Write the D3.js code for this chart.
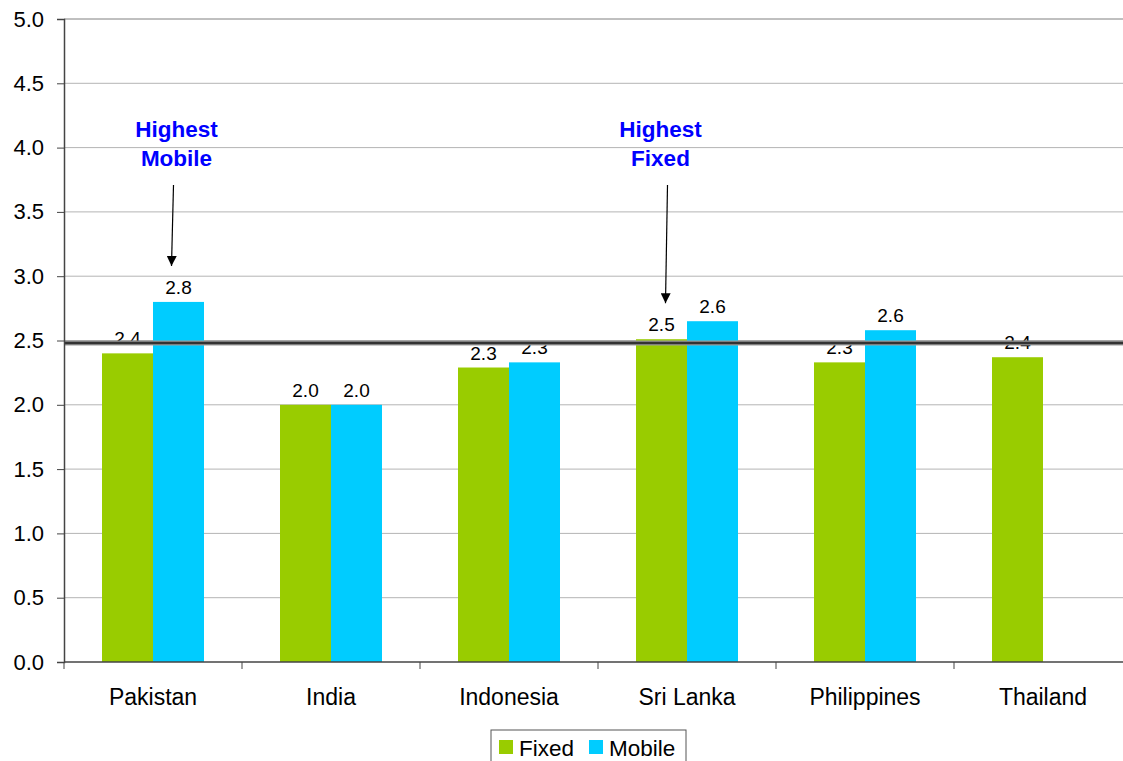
<!DOCTYPE html>
<html>
<head>
<meta charset="utf-8">
<script src="https://cdn.jsdelivr.net/npm/d3@7"></script>
<style>
body { margin: 0; background: #fff; }
svg { display: block; font-family: Arial, "Liberation Sans", sans-serif; }
</style>
</head>
<body>
<svg id="chart" width="1123" height="761"></svg>
<script>
const countries = ['Pakistan', 'India', 'Indonesia', 'Sri Lanka', 'Philippines', 'Thailand']
const fixed = [2.40, 2.00, 2.29, 2.51, 2.33, 2.37]
const mobile = [2.80, 2.00, 2.33, 2.65, 2.58, null]
const fixedLabels = ['2.4', '2.0', '2.3', '2.5', '2.3', '2.4']
const mobileLabels = ['2.8', '2.0', '2.3', '2.6', '2.6', '']
const yTicks = [0, 0.5, 1, 1.5, 2, 2.5, 3, 3.5, 4, 4.5, 5]
const average = 2.48
const callouts = [
	{ country: 'Pakistan', series: 'Mobile', lines: ['Highest', 'Mobile'] },
	{ country: 'Sri Lanka', series: 'Fixed', lines: ['Highest', 'Fixed'] }
]

const svg = d3.select('#chart')
const colors = { Fixed: '#99cc00', Mobile: '#00ccff' }

// plot area
let x = d3.scaleBand().domain(countries).range([64, 1132])
let y = d3.scaleLinear().domain([0, 5]).range([662, 19])
let barW = 51

// gridlines
svg.append('g').selectAll('line')
	.data(yTicks.filter(d => d > 0)).enter().append('line')
	.attr('x1', 64).attr('x2', 1132)
	.attr('y1', d => y(d)).attr('y2', d => y(d))
	.attr('stroke', d => d === 5 ? '#808080' : '#b4b4b4')
	.attr('stroke-width', 1)

// bars
let rows = countries.map((c, i) => ({ c, f: fixed[i], m: mobile[i], fl: fixedLabels[i], ml: mobileLabels[i] }))

let bars = svg.append('g')
bars.selectAll('.fixed')
	.data(rows).enter().append('rect').attr('class', 'fixed')
	.attr('x', d => x(d.c) + x.bandwidth() / 2 - barW)
	.attr('y', d => y(d.f))
	.attr('width', barW)
	.attr('height', d => y(0) - y(d.f))
	.attr('fill', colors.Fixed)

bars.selectAll('.mobile')
	.data(rows.filter(d => d.m != null)).enter().append('rect').attr('class', 'mobile')
	.attr('x', d => x(d.c) + x.bandwidth() / 2)
	.attr('y', d => y(d.m))
	.attr('width', barW)
	.attr('height', d => y(0) - y(d.m))
	.attr('fill', colors.Mobile)

// value labels
let labels = svg.append('g').attr('font-size', 19).attr('text-anchor', 'middle').attr('fill', '#000')
labels.selectAll('.fl')
	.data(rows).enter().append('text').attr('class', 'fl')
	.attr('x', d => x(d.c) + x.bandwidth() / 2 - barW / 2)
	.attr('y', d => y(d.f) - 8)
	.text(d => d.fl)
labels.selectAll('.ml')
	.data(rows.filter(d => d.m != null)).enter().append('text').attr('class', 'ml')
	.attr('x', d => x(d.c) + x.bandwidth() / 2 + barW / 2)
	.attr('y', d => y(d.m) - 8)
	.text(d => d.ml)

// average line
svg.append('line')
	.attr('x1', 64).attr('x2', 1132)
	.attr('y1', y(average)).attr('y2', y(average))
	.attr('stroke', '#9a9a9a').attr('stroke-width', 5)
svg.append('line')
	.attr('x1', 64).attr('x2', 1132)
	.attr('y1', y(average)).attr('y2', y(average))
	.attr('stroke', '#333').attr('stroke-width', 2.5)

// axes
let yAxis = svg.append('g').attr('transform', 'translate(64,0)')
	.call(d3.axisLeft(y).tickValues(yTicks).tickFormat(d3.format('.1f')).tickSizeOuter(0).tickSize(7).tickPadding(13))
yAxis.select('.domain').attr('stroke', '#444').attr('stroke-width', 1.5)
yAxis.selectAll('.tick line').attr('stroke', '#444')
yAxis.selectAll('text').attr('font-size', 22).attr('font-family', 'Arial, "Liberation Sans", sans-serif').attr('fill', '#000')

let xAxis = svg.append('g').attr('transform', `translate(0,${y(0)})`)
xAxis.append('line').attr('x1', 64).attr('x2', 1132).attr('stroke', '#444').attr('stroke-width', 1.5)
xAxis.selectAll('.xt')
	.data(countries.concat(['end'])).enter().append('line').attr('class', 'xt')
	.attr('x1', (d, i) => 64 + i * x.bandwidth()).attr('x2', (d, i) => 64 + i * x.bandwidth())
	.attr('y1', 0).attr('y2', 7).attr('stroke', '#444')
xAxis.selectAll('text')
	.data(countries).enter().append('text')
	.attr('x', d => x(d) + x.bandwidth() / 2)
	.attr('y', 43)
	.attr('text-anchor', 'middle')
	.attr('font-size', 23)
	.text(d => d)

// callouts
svg.append('defs').append('marker')
	.attr('id', 'arrow').attr('viewBox', '0 0 10 10')
	.attr('refX', 10).attr('refY', 5)
	.attr('markerWidth', 10).attr('markerHeight', 10)
	.attr('markerUnits', 'userSpaceOnUse')
	.attr('orient', 'auto')
	.append('path').attr('d', 'M0,0 L10,5 L0,10 z').attr('fill', '#000')

callouts.forEach(co => {
	let i = countries.indexOf(co.country)
	let cx = x(co.country) + x.bandwidth() / 2 + (co.series === 'Mobile' ? barW / 2 : -barW / 2)
	let val = co.series === 'Mobile' ? mobile[i] : fixed[i]
	let tx = co.series === 'Mobile' ? cx - 2 : cx - 1
	let t = svg.append('text')
		.attr('x', tx).attr('y', 137)
		.attr('text-anchor', 'middle')
		.attr('font-size', 22.5).attr('font-weight', 'bold').attr('fill', '#0000ff')
	co.lines.forEach((l, j) => t.append('tspan').attr('x', tx).attr('dy', j ? 29 : 0).text(l))
	let ax = co.series === 'Mobile' ? cx - 7 : cx + 4
	svg.append('line')
		.attr('x1', ax + 2).attr('y1', 185)
		.attr('x2', ax).attr('y2', y(val) - 36)
		.attr('stroke', '#000').attr('stroke-width', 1.2)
		.attr('marker-end', 'url(#arrow)')
})

// legend
let lg = svg.append('g').attr('transform', 'translate(491,730)')
lg.append('rect').attr('width', 195).attr('height', 40).attr('fill', '#fff').attr('stroke', '#555')
let items = ['Fixed', 'Mobile']
let offs = [8, 98]
items.forEach((s, i) => {
	lg.append('rect').attr('x', offs[i]).attr('y', 10).attr('width', 14).attr('height', 14).attr('fill', colors[s])
	lg.append('text').attr('x', offs[i] + 20).attr('y', 26).attr('font-size', 22.5).text(s)
})
</script>
</body>
</html>
